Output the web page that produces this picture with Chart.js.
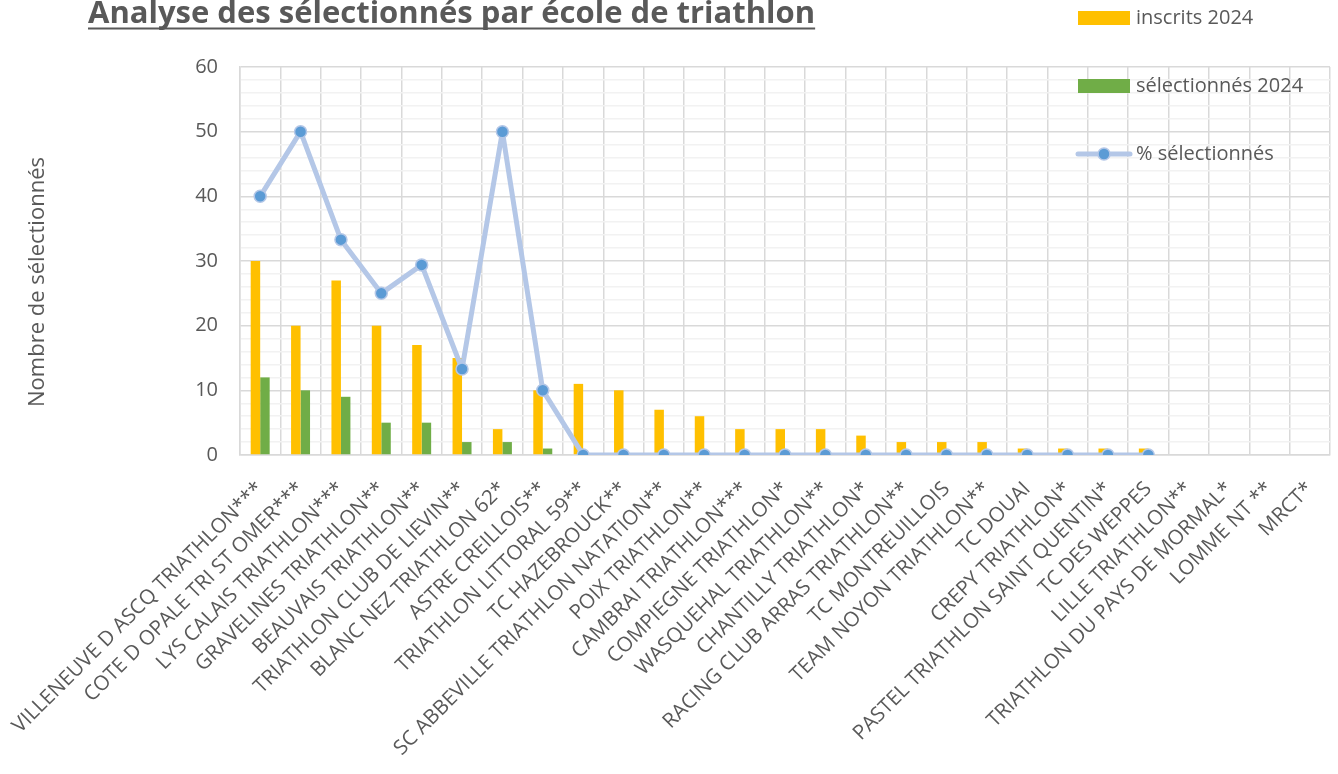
<!DOCTYPE html>
<html>
<head>
    <title>Analyse des sélectionnés par école de triathlon</title>
    <script src="https://cdn.jsdelivr.net/npm/chart.js"></script>
    <style>
        html, body { margin: 0; padding: 0; background: #fff; }
        #wrap { width: 1338px; height: 774px; }
    </style>
</head>
<body>
    <div id="wrap"><canvas id="selectionChart" width="1338" height="774"></canvas></div>

    <script>
        const chartTitle = 'Analyse des sélectionnés par école de triathlon';
        const yAxisTitle = 'Nombre de sélectionnés';

        const ecoles = [
            'VILLENEUVE D ASCQ TRIATHLON***', 'COTE D OPALE TRI ST OMER***', 'LYS CALAIS TRIATHLON***',
            'GRAVELINES TRIATHLON**', 'BEAUVAIS TRIATHLON**', 'TRIATHLON CLUB DE LIEVIN**',
            'BLANC NEZ TRIATHLON 62*', 'ASTRE CREILLOIS**', 'TRIATHLON LITTORAL 59**',
            'TC HAZEBROUCK**', 'SC ABBEVILLE TRIATHLON NATATION**', 'POIX TRIATHLON**',
            'CAMBRAI TRIATHLON***', 'COMPIEGNE TRIATHLON*', 'WASQUEHAL TRIATHLON**',
            'CHANTILLY TRIATHLON*', 'RACING CLUB ARRAS TRIATHLON**', 'TC MONTREUILLOIS',
            'TEAM NOYON TRIATHLON**', 'TC DOUAI', 'CREPY TRIATHLON*',
            'PASTEL TRIATHLON SAINT QUENTIN*', 'TC DES WEPPES', 'LILLE TRIATHLON**',
            'TRIATHLON DU PAYS DE MORMAL*', 'LOMME NT **', 'MRCT*'
        ];
        const inscrits2024 = [30, 20, 27, 20, 17, 15, 4, 10, 11, 10, 7, 6, 4, 4, 4, 3, 2, 2, 2, 1, 1, 1, 1, null, null, null, null];
        const selectionnes2024 = [12, 10, 9, 5, 5, 2, 2, 1, 0, 0, 0, 0, 0, 0, 0, 0, 0, 0, 0, 0, 0, 0, 0, null, null, null, null];
        const pctSelectionnes = [40, 50, 33.3, 25, 29.4, 13.3, 50, 10, 0, 0, 0, 0, 0, 0, 0, 0, 0, 0, 0, 0, 0, 0, 0, null, null, null, null];

        const textColor = '#595959';
        const fontFamily = '"Open Sans", "Liberation Sans", sans-serif';

        // titre souligné, légende à droite et titre de l'axe Y dessinés à la main
        const decorPlugin = {
            id: 'decor',
            afterDraw(chart) {
                const ctx = chart.ctx;
                ctx.save();

                // titre
                ctx.font = 'bold 31px ' + fontFamily;
                ctx.fillStyle = textColor;
                ctx.textAlign = 'left';
                ctx.textBaseline = 'alphabetic';
                ctx.fillText(chartTitle, 88, 23);
                const w = ctx.measureText(chartTitle).width;
                ctx.fillRect(88, 27.5, w, 2);

                // titre axe Y
                ctx.save();
                ctx.translate(38, 282);
                ctx.rotate(-Math.PI / 2);
                ctx.font = '22px ' + fontFamily;
                ctx.textAlign = 'center';
                ctx.textBaseline = 'middle';
                ctx.fillText(yAxisTitle, 0, 0);
                ctx.restore();

                // légende
                const ds = chart.data.datasets;
                const rows = [18, 86, 154];
                ctx.font = '20px ' + fontFamily;
                ctx.textBaseline = 'middle';
                ctx.textAlign = 'left';
                ds.forEach((d, i) => {
                    const y = rows[i];
                    if (d.type === 'line') {
                        ctx.strokeStyle = d.borderColor;
                        ctx.lineWidth = 5;
                        ctx.lineCap = 'round';
                        ctx.beginPath();
                        ctx.moveTo(1078, y);
                        ctx.lineTo(1130, y);
                        ctx.stroke();
                        ctx.beginPath();
                        ctx.arc(1104, y, 6, 0, Math.PI * 2);
                        ctx.fillStyle = d.pointBackgroundColor;
                        ctx.fill();
                        ctx.lineWidth = 1.5;
                        ctx.strokeStyle = d.pointBorderColor;
                        ctx.stroke();
                    } else {
                        ctx.fillStyle = d.backgroundColor;
                        ctx.fillRect(1078, y - 7, 52, 14);
                    }
                    ctx.fillStyle = textColor;
                    ctx.fillText(d.label, 1136, y);
                });

                ctx.restore();
            }
        };

        const ctx = document.getElementById('selectionChart').getContext('2d');
        new Chart(ctx, {
            type: 'bar',
            data: {
                labels: ecoles,
                datasets: [
                    {
                        label: 'inscrits 2024',
                        data: inscrits2024,
                        backgroundColor: '#FFC000',
                        barPercentage: 1,
                        categoryPercentage: 0.47,
                        order: 2
                    },
                    {
                        label: 'sélectionnés 2024',
                        data: selectionnes2024,
                        backgroundColor: '#70AD47',
                        barPercentage: 1,
                        categoryPercentage: 0.47,
                        order: 2
                    },
                    {
                        type: 'line',
                        label: '% sélectionnés',
                        data: pctSelectionnes,
                        borderColor: '#B4C7E7',
                        borderWidth: 5,
                        borderJoinStyle: 'round',
                        borderCapStyle: 'round',
                        pointRadius: 6,
                        pointHoverRadius: 6,
                        pointBackgroundColor: '#5B9BD5',
                        pointBorderColor: '#B4C7E7',
                        pointBorderWidth: 1.5,
                        tension: 0,
                        order: 0
                    }
                ]
            },
            options: {
                responsive: false,
                animation: false,
                layout: {
                    padding: { top: 67, right: 8, left: 0, bottom: 0 }
                },
                plugins: {
                    legend: { display: false },
                    title: { display: false },
                    tooltip: { enabled: false }
                },
                scales: {
                    x: {
                        grid: {
                            color: '#D9D9D9',
                            lineWidth: 1.5,
                            drawTicks: false
                        },
                        border: { color: '#D9D9D9', width: 1.5 },
                        ticks: {
                            color: textColor,
                            font: { family: fontFamily, size: 20.5 },
                            minRotation: 45,
                            maxRotation: 45,
                            autoSkip: false,
                            padding: 22
                        },
                        afterFit(scale) {
                            scale.height = 319;
                            scale.paddingLeft = 0;
                            scale.paddingRight = 0;
                        }
                    },
                    y: {
                        min: 0,
                        max: 60,
                        grid: {
                            color: c => (c.tick && c.tick.value % 10 === 0) ? '#D9D9D9' : '#F2F2F2',
                            lineWidth: 1.5,
                            drawTicks: false
                        },
                        border: { color: '#D9D9D9', width: 1.5 },
                        ticks: {
                            stepSize: 2,
                            autoSkip: false,
                            maxTicksLimit: 40,
                            color: textColor,
                            font: { family: fontFamily, size: 20 },
                            padding: 22,
                            callback: v => (v % 10 === 0 ? v : '')
                        },
                        afterFit(scale) { scale.width = 240; }
                    }
                }
            },
            plugins: [decorPlugin]
        });
    </script>
</body>
</html>
